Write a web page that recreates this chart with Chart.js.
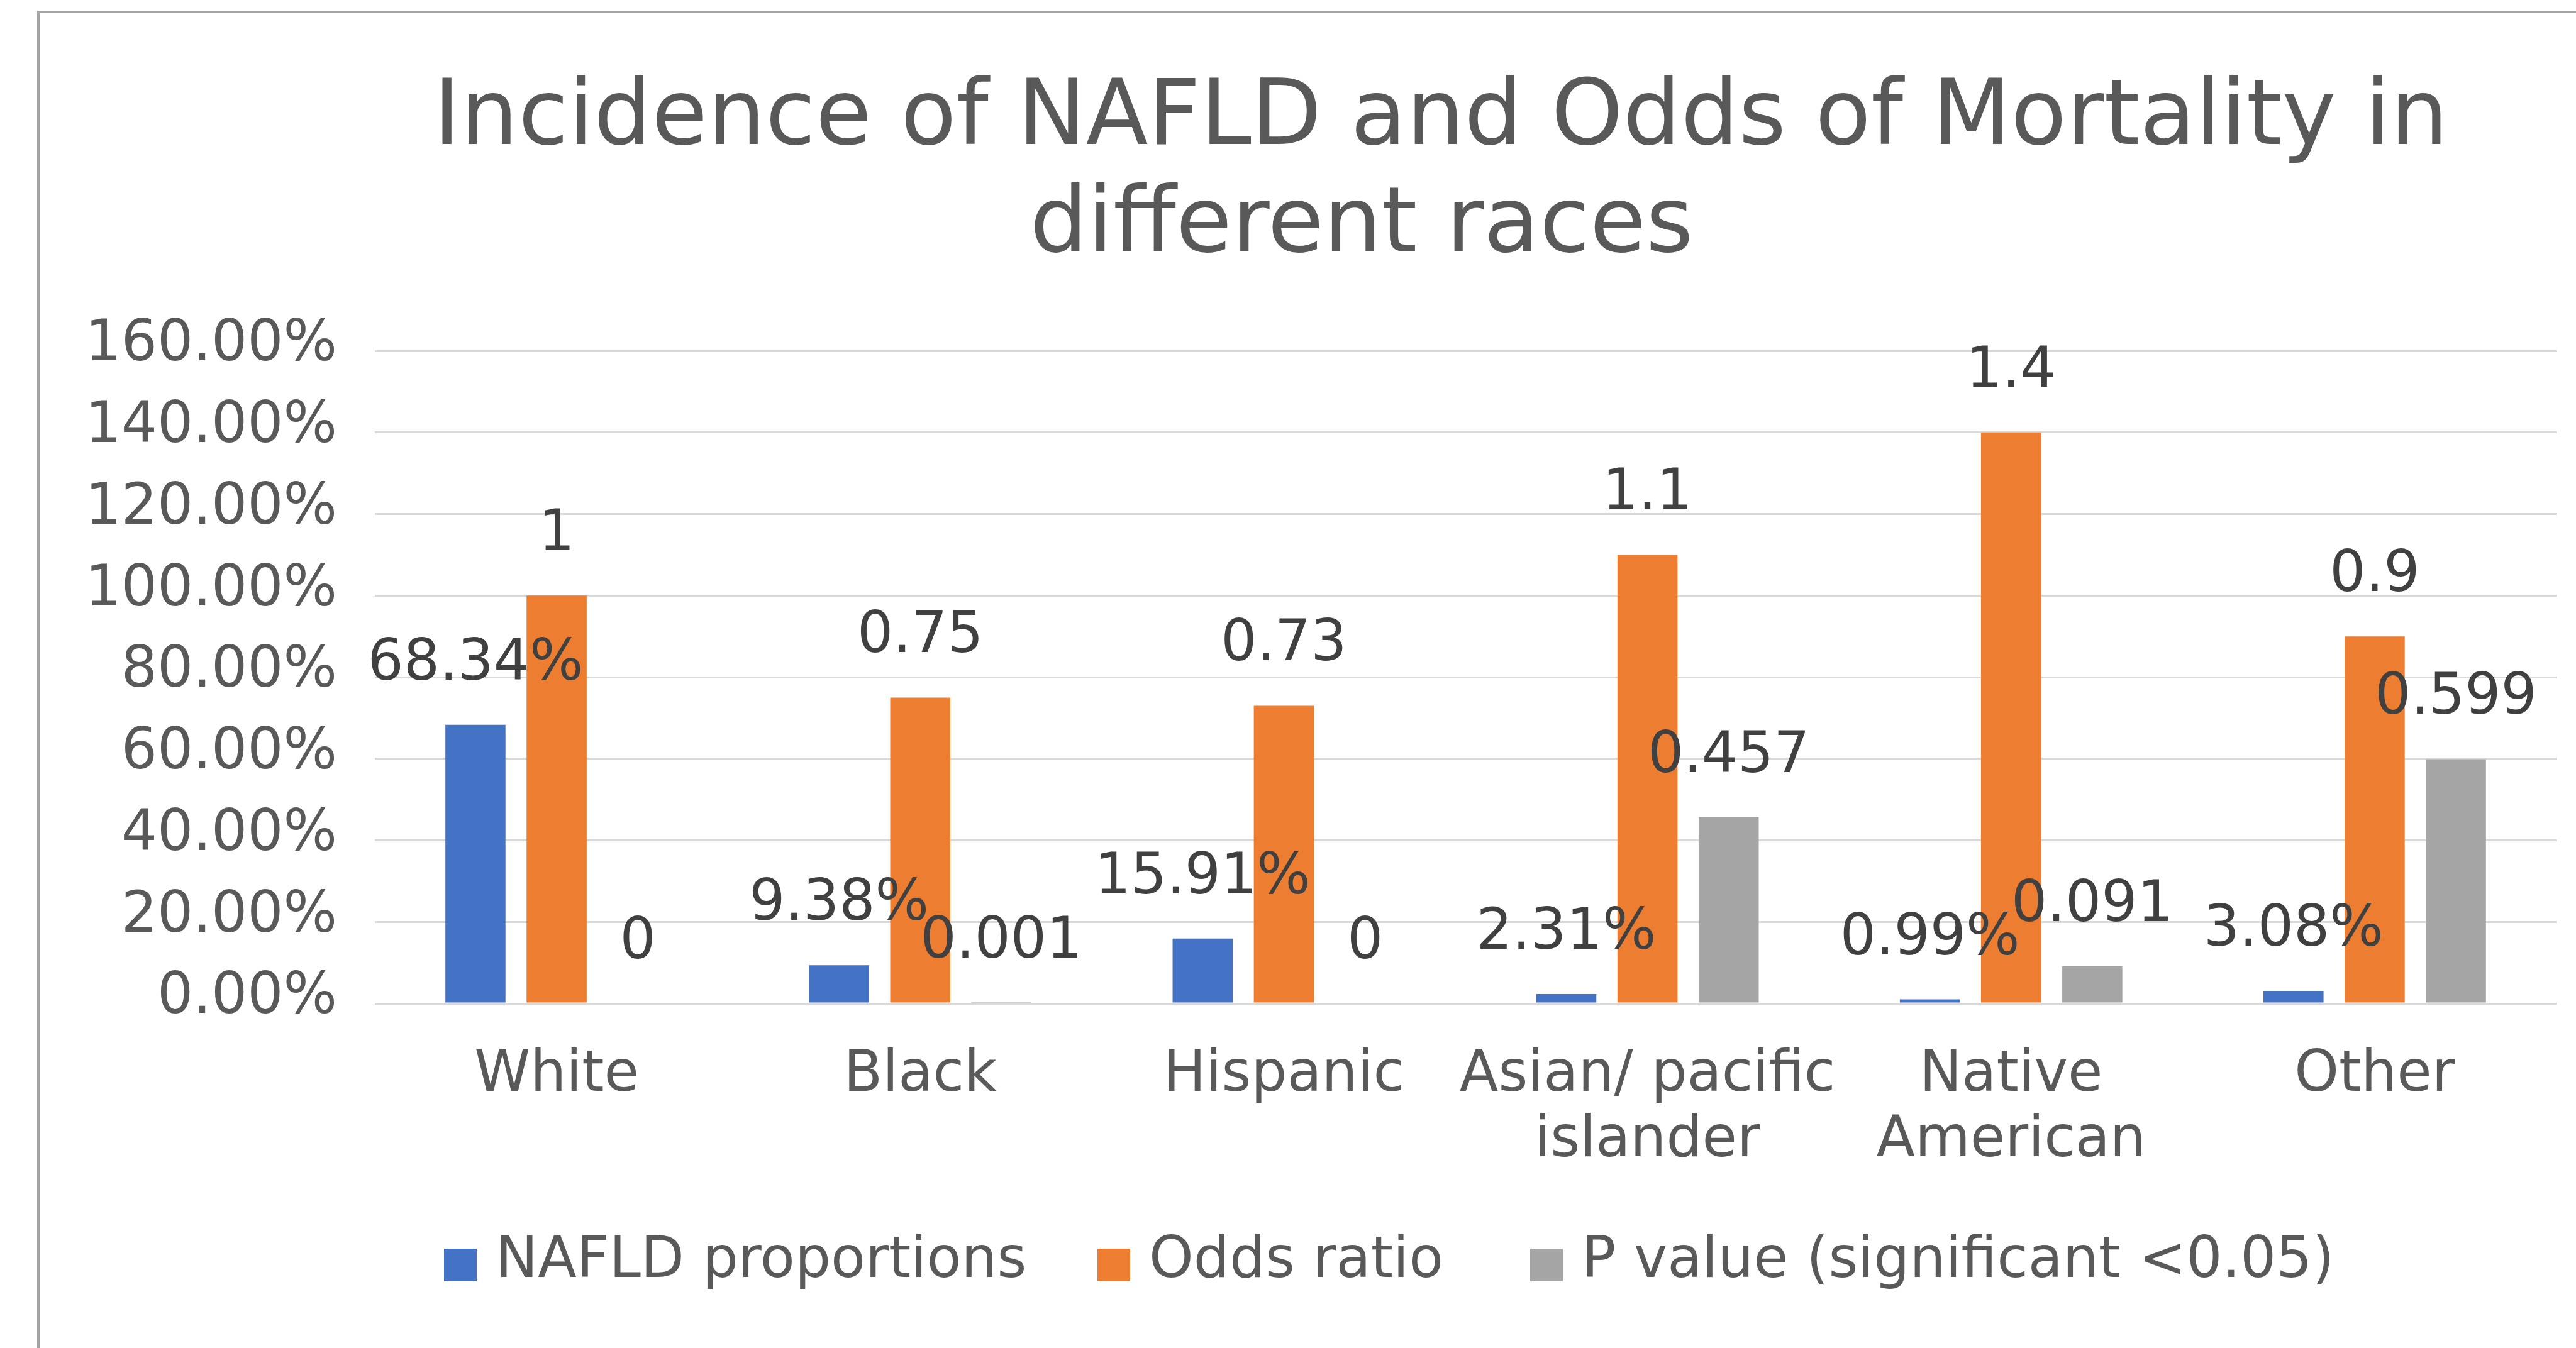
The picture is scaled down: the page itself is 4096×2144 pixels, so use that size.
<!DOCTYPE html>
<html>
<head>
<meta charset="utf-8">
<script src="https://cdn.jsdelivr.net/npm/chart.js@4.4.1/dist/chart.umd.min.js"></script>
<style>
html,body{margin:0;padding:0;background:#fff;overflow:hidden}
#wrap{width:4096px;height:2144px;position:relative}
canvas{display:block}
</style>
</head>
<body>
<div id="wrap"><canvas id="c" width="4096" height="2144"></canvas></div>
<script>
// ---- data ----
const categories = ["White", "Black", "Hispanic", ["Asian/ pacific", "islander"], ["Native", "American"], "Other"];
const seriesNames = ["NAFLD proportions", "Odds ratio", "P value (significant <0.05)"];
const nafldProportions = [0.6834, 0.0938, 0.1591, 0.0231, 0.0099, 0.0308];
const oddsRatio = [1, 0.75, 0.73, 1.1, 1.4, 0.9];
const pValue = [0, 0.001, 0, 0.457, 0.091, 0.599];
const yMin = 0, yMax = 1.6, yStep = 0.2;
const titleLines = ["Incidence of NAFLD and Odds of Mortality in", "different races"];

// ---- styles ----
const FONT = '"DejaVu Sans", "Liberation Sans", Arial, sans-serif';
const colors = ["#4472C4", "#ED7D31", "#A5A5A5"];
const axisText = "#595959";
const labelText = "#404040";

const fmtPct = v => (v * 100).toFixed(2) + "%";
const labelFormats = [fmtPct, v => String(v), v => String(v)];

const decor = {
  id: "decor",
  beforeDraw(chart) {
    const ctx = chart.ctx;
    ctx.save();
    ctx.fillStyle = "#ffffff";
    ctx.fillRect(0, 0, chart.width, chart.height);
    // chart frame (cropped on right/bottom in the reference)
    ctx.strokeStyle = "#a3a3a3";
    ctx.lineWidth = 4;
    ctx.beginPath();
    ctx.moveTo(61, chart.height + 10);
    ctx.lineTo(61, 19);
    ctx.lineTo(chart.width + 10, 19);
    ctx.stroke();
    ctx.restore();
  },
  afterDatasetsDraw(chart) {
    const ctx = chart.ctx;
    ctx.save();
    ctx.font = "90px " + FONT;
    ctx.fillStyle = labelText;
    ctx.textAlign = "center";
    ctx.textBaseline = "alphabetic";
    chart.data.datasets.forEach((ds, di) => {
      const meta = chart.getDatasetMeta(di);
      meta.data.forEach((bar, i) => {
        ctx.fillText(labelFormats[di](ds.data[i]), bar.x, bar.y - 72);
      });
    });
    ctx.restore();
  },
  afterDraw(chart) {
    const ctx = chart.ctx;
    ctx.save();
    // title
    ctx.fillStyle = axisText;
    ctx.font = "145px " + FONT;
    ctx.textAlign = "center";
    ctx.textBaseline = "alphabetic";
    const titleCx = [2291, 2165], titleBase = [229, 400];
    titleLines.forEach((t, i) => ctx.fillText(t, titleCx[i], titleBase[i]));
    // legend
    const itemX = [706, 1745, 2433];
    const sq = 52, sqTop = 1986, textBase = 2031;
    ctx.font = "90px " + FONT;
    ctx.textAlign = "left";
    chart.data.datasets.forEach((ds, i) => {
      ctx.fillStyle = ds.backgroundColor;
      ctx.fillRect(itemX[i], sqTop, sq, sq);
      ctx.fillStyle = axisText;
      ctx.fillText(ds.label, itemX[i] + 82, textBase);
    });
    ctx.restore();
  }
};

const datasets = [nafldProportions, oddsRatio, pValue].map((d, i) => ({
  label: seriesNames[i],
  data: d,
  backgroundColor: colors[i],
  borderWidth: 0,
  categoryPercentage: 0.67,
  barPercentage: 0.74
}));

new Chart(document.getElementById("c"), {
  type: "bar",
  data: { labels: categories, datasets },
  plugins: [decor],
  options: {
    responsive: false,
    animation: false,
    devicePixelRatio: 1,
    layout: { padding: { left: 0, right: 31, top: 558, bottom: 0 } },
    plugins: { legend: { display: false }, title: { display: false }, tooltip: { enabled: false } },
    scales: {
      x: {
        grid: { display: false, drawTicks: false },
        border: { display: false },
        ticks: {
          color: axisText,
          font: { family: FONT, size: 90, lineHeight: 1.156 },
          padding: 64,
          maxRotation: 0,
          autoSkip: false
        },
        afterFit(scale) { scale.height = 548; }
      },
      y: {
        min: yMin,
        max: yMax,
        grid: { color: "#d9d9d9", lineWidth: 3, drawTicks: false },
        border: { display: false },
        ticks: {
          stepSize: yStep,
          color: axisText,
          font: { family: FONT, size: 90 },
          padding: 60,
          labelOffset: -8,
          callback: v => fmtPct(v)
        },
        afterFit(scale) { scale.width = 596; }
      }
    }
  }
});
</script>
</body>
</html>
